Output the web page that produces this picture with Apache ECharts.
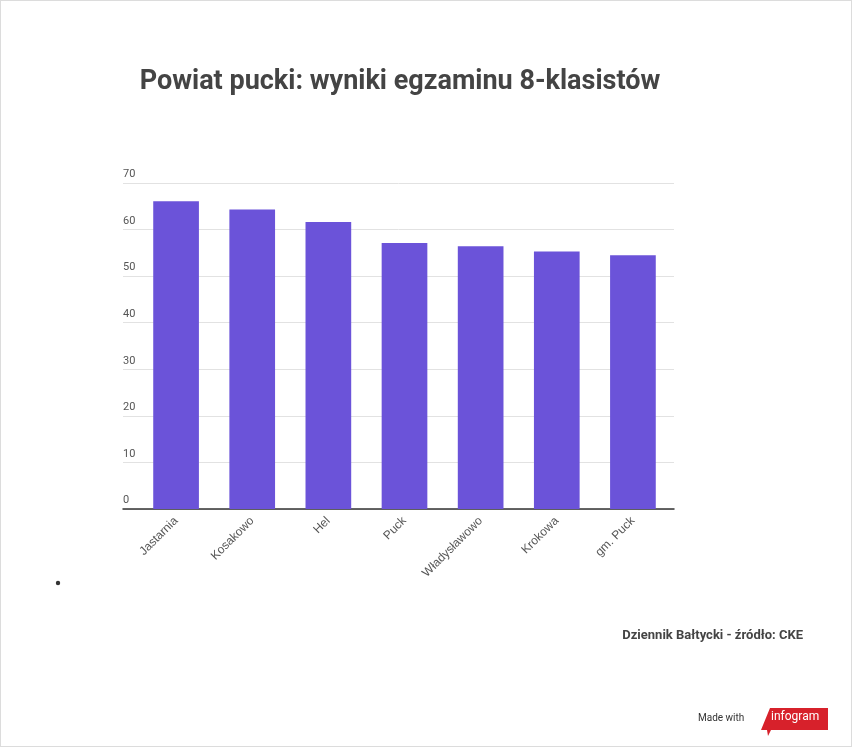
<!DOCTYPE html>
<html><head><meta charset="utf-8">
<script src="https://cdn.jsdelivr.net/npm/echarts@6/dist/echarts.min.js"></script>
<style>html,body{margin:0;padding:0;background:#fff}#c{width:852px;height:747px;box-sizing:border-box;border:1px solid #dcdcdc}</style>
</head><body><div id="c"></div>
<script>
const categories = ["Jastarnia","Kosakowo","Hel","Puck","Władysławowo","Krokowa","gm. Puck"];
const values = [66.1, 64.3, 61.6, 57.1, 56.4, 55.3, 54.5];
const yTicks = [0,10,20,30,40,50,60,70];

const chart = echarts.init(document.getElementById('c'));
chart.setOption({
  animation:false,
  title:{text:"Powiat pucki: wyniki egzaminu 8-klasistów", left:394, textAlign:'center', top:63,
    textStyle:{fontFamily:'Roboto', fontWeight:'bold', fontSize:27, color:'#444'}},
  grid:[
    {left:122, right:177, top:182, bottom:237},
    {left:137, right:180, top:182, bottom:237}
  ],
  xAxis:[
    {gridIndex:0, type:'value', min:0, max:1, show:true, axisLine:{show:true,lineStyle:{color:'#333',width:1.5}},
     axisTick:{show:false}, axisLabel:{show:false}, splitLine:{show:false}},
    {gridIndex:1, type:'category', data:categories, axisLine:{show:false}, axisTick:{show:false},
     axisLabel:{rotate:45, interval:0, margin:10, color:'#555', fontFamily:'Liberation Sans', fontSize:12}}
  ],
  yAxis:[
    {gridIndex:0, type:'value', min:0, max:70, interval:10, axisLine:{show:false}, axisTick:{show:false},
     splitLine:{lineStyle:{color:'#e2e2e2'}},
     axisLabel:{inside:true, margin:0, verticalAlign:'bottom', align:'left', padding:[0,0,3,0],
       color:'#555', fontFamily:'Roboto', fontSize:11,
       formatter:v=>yTicks.includes(v)?String(v):''}},
    {gridIndex:1, type:'value', min:0, max:70, show:false}
  ],
  series:[{type:'bar', xAxisIndex:1, yAxisIndex:1, data:values, barWidth:'60%', z:1,
    itemStyle:{color:'#6b53d9'}}],
  graphic:[
    {type:'circle', shape:{cx:57,cy:582,r:2.2}, style:{fill:'#333'}},
    {type:'text', right:48, top:628, style:{text:'Dziennik Bałtycki - źródło: CKE', font:'bold 13px Roboto', fill:'#444'}},
    {type:'text', left:697, top:712, style:{text:'Made with', font:'10px Roboto', fill:'#333'}},
    {type:'polygon', shape:{points:[[769,707],[827,707],[827,729],[770,729],[767,735],[766,729],[760,729]]}, style:{fill:'#d7212b'}},
    {type:'text', left:770, top:710, style:{text:'infogram', font:'12px Roboto', fill:'#fff'}}
  ]
});
</script></body></html>
